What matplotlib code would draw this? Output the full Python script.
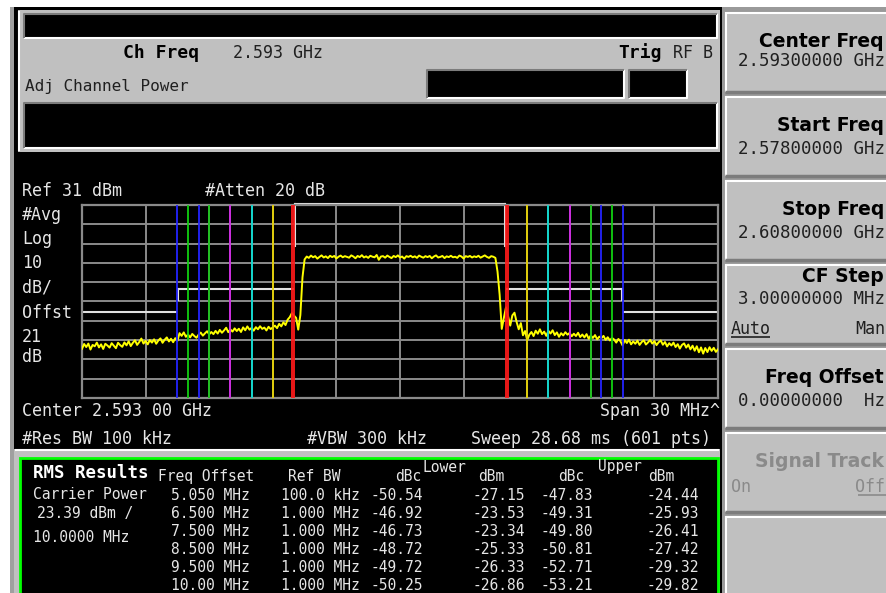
import matplotlib
matplotlib.use("Agg")
import matplotlib.pyplot as plt
from matplotlib.patches import Rectangle
import numpy as np

plt.rcParams['font.family'] = ['DejaVu Sans Mono', 'DejaVu Sans']

W, H = 886, 593

# ---- instrument settings ----
ref_level = 31      # dBm, top of graticule
db_per_div = 10
span_mhz = 30

# ---- trace (dBm), 0.1 MHz steps from -15 to +15 MHz ----
trace_dbm = [
    # -15.0 .. -10.5
    -43.5, -41.0, -42.6, -40.8, -43.9, -41.5, -42.2, -40.3, -42.8, -41.2,
    -43.6, -40.9, -41.8, -42.9, -40.6, -41.9, -43.2, -40.4, -41.6, -42.5,
    -40.2, -41.7, -39.6, -42.1, -40.4, -39.1, -41.5, -40.0, -38.2, -40.8,
    -39.4, -41.2, -39.0, -40.3, -38.6, -40.9, -39.2, -38.1, -40.4, -38.8,
    -37.6, -39.7, -38.3, -40.1, -38.0, -39.4,
    # -10.4 .. -4.5
    -35.4, -36.8, -35.0, -37.3, -36.1, -37.6, -35.8, -36.9, -37.8, -36.2,
    -35.1, -36.7, -35.5, -34.4, -36.0, -34.8, -35.9, -34.2, -35.6, -33.7,
    -35.2, -34.0, -32.6, -34.9, -33.5, -34.6, -32.9, -34.3, -33.1, -34.8,
    -32.4, -33.9, -31.9, -33.6, -32.7, -34.1, -32.3, -33.4, -31.8, -33.2,
    -32.5, -34.0, -32.1, -33.3, -32.4, -31.5, -32.8, -30.6, -31.9, -29.8,
    -31.2, -28.4, -27.1, -25.0, -26.3, -27.5, -33.6, -26.0, -6.5, 2.8,
    # -4.4 .. 4.4 carrier
    4.3, 3.6, 4.8, 3.9, 4.5, 3.2, 4.1, 4.9, 3.8, 4.4,
    3.5, 4.7, 4.0, 4.6, 3.3, 4.2, 4.8, 3.9, 4.5, 4.1,
    3.7, 4.9, 4.3, 3.4, 4.6, 4.0, 5.0, 3.8, 4.4, 3.6,
    4.7, 4.2, 3.9, 5.1, 2.6, 4.3, 4.5, 3.7, 4.8, 4.1,
    3.5, 4.6, 4.0, 4.9, 3.8, 4.3, 3.2, 4.5, 4.1, 4.7,
    3.9, 4.4, 3.6, 4.8, 4.2, 3.7, 4.5, 4.0, 4.6, 3.4,
    4.3, 4.9, 3.8, 4.1, 4.6, 3.5, 4.4, 4.0, 4.7, 3.9,
    4.2, 3.6, 4.8, 4.3, 3.3, 4.5, 4.1, 4.6, 3.8, 4.4,
    4.0, 4.7, 3.7, 4.3, 4.9, 4.1, 3.6, 4.5, 4.2,
    # 4.5 .. 15.0
    3.6, -3.5, -15.5, -33.2, -27.4, -22.0, -26.8, -31.5, -26.2, -24.8,
    -29.6, -33.4, -30.2, -36.5, -34.3, -39.0, -36.2, -34.8, -36.9, -34.1,
    -35.7, -33.4, -35.9, -34.6, -36.8, -34.2, -35.6, -33.9, -36.4, -35.0,
    -37.3, -35.4, -36.6, -34.9, -36.2, -35.3, -37.0, -35.7, -36.9, -35.2,
    -37.4, -36.1, -37.6, -35.9, -38.3, -36.6, -37.9, -36.4, -38.6, -37.2,
    -38.0, -36.8, -38.9, -37.5, -39.2, -37.9, -38.7, -40.3, -38.4, -39.6,
    -41.8, -39.0, -40.5, -38.8, -41.2, -39.7, -40.9, -39.3, -41.5, -40.0,
    -39.1, -41.3, -40.2, -38.9, -40.8, -39.5, -41.6, -40.1, -39.2, -41.4,
    -40.0, -42.3, -40.6, -41.8, -40.3, -42.6, -41.1, -43.4, -41.5, -40.7,
    -42.9, -41.3, -43.8, -41.9, -44.5, -42.2, -45.3, -42.8, -46.0, -43.1,
    -45.2, -42.7, -44.6, -43.0, -45.1, -43.8,
]
freq_mhz = np.linspace(-span_mhz / 2, span_mhz / 2, len(trace_dbm))

# ---- integration bands (offset, bandwidth) ----
band_offsets = [5.05, 6.5, 7.5, 8.5, 9.5, 10.0]
band_widths = [0.1, 1.0, 1.0, 1.0, 1.0, 1.0]
band_colors = ['#ff1a1a', '#e6d200', '#00d6e0', '#e020e0', '#10d010', '#2424ff']

# ---- limit lines (mirrored around the carrier) ----
lim_top_x, lim_top_db, lim_top_drop = 4.95, 31.3, 9.5
lim_mid_x0, lim_mid_x1, lim_mid_db, lim_mid_drop = 5.05, 10.47, -12.5, -18.2
lim_out_x, lim_out_db = 10.55, -24.4

# ---- results table ----
freq_offsets = ['5.050 MHz', '6.500 MHz', '7.500 MHz', '8.500 MHz', '9.500 MHz', '10.00 MHz']
ref_bws = ['100.0 kHz', '1.000 MHz', '1.000 MHz', '1.000 MHz', '1.000 MHz', '1.000 MHz']
lower_dbc = [-50.54, -46.92, -46.73, -48.72, -49.72, -50.25]
lower_dbm = [-27.15, -23.53, -23.34, -25.33, -26.33, -26.86]
upper_dbc = [-47.83, -49.31, -49.80, -50.81, -52.71, -53.21]
upper_dbm = [-24.44, -25.93, -26.41, -27.42, -29.32, -29.82]

# ---- softkeys ----
key_titles = ['Center Freq', 'Start Freq', 'Stop Freq', 'CF Step', 'Freq Offset', 'Signal Track', '']
key_values = ['2.59300000 GHz', '2.57800000 GHz', '2.60800000 GHz', '3.00000000 MHz',
              '0.00000000  Hz', '', '']

GRAY = '#c0c0c0'
DARK = '#7c7c7c'
SCR = '#e6e6e6'

fig = plt.figure(figsize=(W / 100, H / 100), dpi=100, facecolor='white')
ax = fig.add_axes([0, 0, 1, 1])
ax.set_xlim(0, W)
ax.set_ylim(H, 0)
ax.axis('off')


def box(x, y, w, h, color, **kw):
    ax.add_patch(Rectangle((x, y), w, h, facecolor=color, edgecolor='none', **kw))


def seg(xs, ys, color, lw=1.5):
    ax.plot(xs, ys, color=color, lw=lw, solid_capstyle='butt')


def txt(x, y, s, size=12, color=SCR, ha='left', weight='normal', family=None):
    kw = {}
    if family:
        kw['family'] = family
    ax.text(x, y + 1.5, s, fontsize=size, color=color, ha=ha, va='center',
            fontweight=weight, **kw)


def sunken(x, y, w, h):
    box(x, y, w, h, 'black')
    seg([x, x + w, x + w], [y + h, y + h, y], 'white', 1.5)
    seg([x, x, x + w], [y + h, y, y], DARK, 1.5)


# screen background and left border
box(12, 7, W - 12, H - 7, 'black')
box(10, 7, 4, H - 7, '#a0a0a0')

# upper status panel
box(18, 10, 702, 142, GRAY)
seg([19, 19], [11, 151], 'white', 1.5)
sunken(24, 14, 693, 24)
sunken(24, 103, 693, 45)
sunken(427, 70, 197, 28)
sunken(629, 70, 58, 28)
txt(123, 51, 'Ch Freq', 13, 'black', weight='bold')
txt(233, 51, '2.593 GHz', 12, '#202020')
txt(618, 51, 'Trig', 13, 'black', weight='bold')
txt(713, 51, 'RF B', 12, '#202020', ha='right')
txt(25, 85, 'Adj Channel Power', 11.5, '#202020')

# graticule annotations
txt(22, 190, 'Ref 31 dBm', 12)
txt(205, 190, '#Atten 20 dB', 12)
for yy, s in zip([213, 238, 262, 286, 311, 335, 356],
                 ['#Avg', 'Log', '10', 'dB/', 'Offst', '21', 'dB']):
    txt(22, yy, s, 12)
txt(22, 410, 'Center 2.593 00 GHz', 12)
txt(720, 410, 'Span 30 MHz^', 12, ha='right')
txt(22, 437, '#Res BW 100 kHz', 12)
txt(307, 437, '#VBW 300 kHz', 12)
txt(711, 437, 'Sweep 28.68 ms (601 pts)', 12, ha='right')

# results panel
box(14, 449, 706, 144, GRAY)
seg([15, 719], [450, 450], 'white', 1.5)
ax.add_patch(Rectangle((20, 458), 698, 140, facecolor='black', edgecolor='#00ff00', lw=2))
txt(33, 471, 'RMS Results', 12.5, 'white', weight='bold')
txt(158, 475, 'Freq Offset', 10.5)
txt(288, 475, 'Ref BW', 10.5)
txt(421, 475, 'dBc', 10.5, ha='right')
txt(423, 466, 'Lower', 10.5)
txt(478, 475, 'dBm', 10.5)
txt(558, 475, 'dBc', 10.5)
txt(598, 465, 'Upper', 10.5)
txt(648, 475, 'dBm', 10.5)
txt(33, 493, 'Carrier Power', 10.5)
txt(37, 512, '23.39 dBm /', 10.5)
txt(33, 536, '10.0000 MHz', 10.5)
row_y = [494, 512, 530, 548, 566, 583.5]
for i, yy in enumerate(row_y):
    txt(250, yy, freq_offsets[i], 10.5, ha='right')
    txt(360, yy, ref_bws[i], 10.5, ha='right')
    txt(423, yy, f'{lower_dbc[i]:.2f}', 10.5, ha='right')
    txt(525, yy, f'{lower_dbm[i]:.2f}', 10.5, ha='right')
    txt(593, yy, f'{upper_dbc[i]:.2f}', 10.5, ha='right')
    txt(699, yy, f'{upper_dbm[i]:.2f}', 10.5, ha='right')

# softkeys
box(722, 7, W - 722, H - 7, '#9a9a9a')
for k in range(7):
    top = 12 + 84 * k
    box(725, top, W - 725, 80, GRAY)
    seg([726, 726], [top, top + 80], 'white', 1.5)
    seg([725, W], [top + 0.8, top + 0.8], 'white', 1.5)
    seg([725, W], [top + 80, top + 80], DARK, 2.5)
    title, value = key_titles[k], key_values[k]
    if k == 3:
        txt(884, top + 11, title, 13.5, 'black', ha='right', weight='bold', family='DejaVu Sans')
        txt(885, top + 33, value, 12.5, '#202020', ha='right')
        txt(731, top + 64, 'Auto', 12, '#202020')
        seg([731, 770], [top + 73, top + 73], '#202020', 1.2)
        txt(885, top + 64, 'Man', 12, '#202020', ha='right')
    elif k == 5:
        txt(884, top + 28, title, 13.5, '#8a8a8a', ha='right', weight='bold', family='DejaVu Sans')
        txt(731, top + 54, 'On', 12, '#8a8a8a')
        txt(885, top + 54, 'Off', 12, '#8a8a8a', ha='right')
        seg([858, W], [top + 63, top + 63], '#8a8a8a', 1.2)
    elif title:
        ty = top + 28
        vy = top + 47 if k == 0 else top + 52
        txt(884, ty, title, 13.5, 'black', ha='right', weight='bold', family='DejaVu Sans')
        txt(885, vy, value, 12.5, '#202020', ha='right')

# ---- spectrum graticule ----
x0, y0, x1, y1 = 82, 205, 718, 398
gx = fig.add_axes([x0 / W, 1 - y1 / H, (x1 - x0) / W, (y1 - y0) / H])
gx.set_facecolor('none')
gx.set_xlim(-span_mhz / 2, span_mhz / 2)
gx.set_ylim(ref_level - 10 * db_per_div, ref_level)
gx.set_xticks(np.linspace(-span_mhz / 2, span_mhz / 2, 11))
gx.set_yticks(np.linspace(ref_level - 10 * db_per_div, ref_level, 11))
gx.tick_params(length=0, labelbottom=False, labelleft=False)
gx.grid(True, color='#8a8a8a', lw=1.4)
for sp in gx.spines.values():
    sp.set_color('#8a8a8a')
    sp.set_linewidth(1.6)

# limit lines
lc = '#e0e0e0'
for s in (-1, 1):
    gx.plot([s * lim_top_x, s * lim_top_x], [lim_top_drop, lim_top_db], color=lc, lw=1.5, clip_on=False)
    gx.plot([s * lim_mid_x1, s * lim_mid_x0], [lim_mid_db, lim_mid_db], color=lc, lw=1.5)
    gx.plot([s * lim_mid_x1, s * lim_mid_x1], [lim_mid_db, lim_mid_drop], color=lc, lw=1.5)
    gx.plot([s * lim_out_x, s * span_mhz / 2], [lim_out_db, lim_out_db], color=lc, lw=1.5)
gx.plot([-lim_top_x, lim_top_x], [lim_top_db, lim_top_db], color=lc, lw=1.5, clip_on=False)

# trace
gx.plot(freq_mhz, trace_dbm, color='#ffff00', lw=1.4, zorder=3)

# integration band edges
for off, bw, c in zip(band_offsets, band_widths, band_colors):
    for s in (-1, 1):
        for edge in (off - bw / 2, off + bw / 2):
            gx.axvline(s * edge, color=c, lw=1.3, zorder=4)

fig.savefig('out.png', dpi=100, facecolor='white')
